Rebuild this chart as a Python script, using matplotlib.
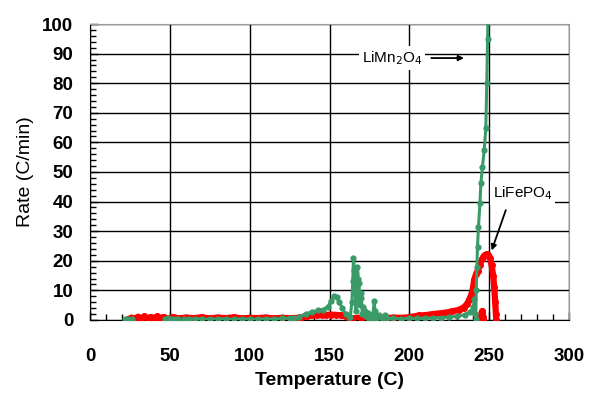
import numpy as np
import matplotlib
matplotlib.use("Agg")
import matplotlib.pyplot as plt

plt.rcParams['font.family'] = ['Liberation Sans', 'DejaVu Sans']

# LiFePO4 (red) - temperature (C), rate (C/min)
fe_temp = [24, 26, 28, 30, 32, 34, 36, 38, 40, 42, 44, 46, 48, 52, 56, 60, 65, 70, 75, 80,
           85, 90, 95, 100, 105, 110, 115, 120, 125, 130, 133, 136, 139, 142, 145, 148,
           151, 154, 157, 160, 162, 165, 170, 175, 180, 185, 190, 195, 200, 206, 210,
           215, 222, 227, 231, 234, 236, 237.5, 238.8, 239.6, 240.6, 241.8, 242.7, 244,
           245.5, 246.5, 247.5, 248.5, 249.5, 250.5, 251.5, 252.5, 253.2, 253.8, 254.2,
           254.5, np.nan, 244.8, 245.2, 245.8, 246.2, 246.4]
fe_rate = [0.3, 0.8, 0.2, 1.1, 0.4, 1.2, 0.5, 1.0, 0.3, 1.2, 0.6, 1.0, 0.4, 0.9, 0.5, 0.8,
           0.6, 0.9, 0.5, 0.8, 0.6, 0.9, 0.5, 0.7, 0.6, 0.8, 0.5, 0.7, 0.6, 0.7, 1.0, 1.3,
           1.5, 1.6, 1.7, 1.7, 1.8, 1.7, 1.6, 1.2, 0.6, 0.5, 0.8, 0.5, 0.9, 0.6, 0.8, 0.7,
           0.9, 1.5, 1.6, 2.0, 2.4, 2.9, 3.4, 4.2, 5.3, 6.8, 8.5, 10, 13.5, 15.5, 16.6,
           18.5, 20.5, 21.5, 22, 22.2, 22, 21, 18.5, 15, 11, 6, 2, 0, np.nan, 0.5, 2.5,
           3, 1, 0]

# LiMn2O4 (green)
mn_temp = [22, 23.5, 25, 26.5, np.nan, 47, 49, 51, 53, 55, np.nan, 59, 62, 66, 70, 75, 80,
           85, 90, 95, 100, 105, 110, 115, 120, 125, 128, 131, 135, 139, 143, 146, 149,
           151, 153, 154.5, 156, 158, 160, 162, 163, 164, 164.5, 165, 165.5, 166, 166.5,
           167, 167.5, 168, 168.5, 169, 169.5, 170, 170.5, 171, 172, 172.5, 173.5, 174,
           175, 176, 177, 178, 178.5, 179, 181, 183, 184.5, 186, 190, 195, 200, 205, 210,
           215, 220, 225, 230, 235, 238, 239, 240, 240.8, 241.3, 241.6, 241.9, 242.3,
           242.7, 243.3, 244.2, 244.8, 245.8, 246.9, 247.9, 248.5, 249, 249.3]
mn_rate = [0.2, 0.3, 0.1, 0.3, np.nan, 0.3, 0.5, 0.2, 0.4, 0.3, np.nan, 0.3, 0.2, 0.4, 0.3,
           0.2, 0.4, 0.3, 0.2, 0.4, 0.3, 0.2, 0.4, 0.3, 0.5, 0.6, 0.7, 1.0, 2.0, 2.8, 3.2,
           3.5, 4.5, 6.5, 8.2, 7.8, 6.0, 4.0, 2.0, 1.0, 1.0, 6, 13, 21, 17, 10, 3, 8, 18,
           14, 12.5, 5, 9, 7.5, 2, 4.5, 1.5, 3, 1, 2.2, 0.8, 1.5, 0.8, 6.4, 3, 0.8, 1.5,
           0.7, 1.7, 0.6, 0.5, 0.4, 0.6, 0.5, 0.6, 0.7, 0.8, 1.0, 1.2, 1.8, 2.8, 3.0, 4.5,
           7.0, 2.0, 0.3, 10, 18, 24.8, 31.5, 39.4, 46.2, 51.8, 57.4, 64.8, 80, 95, 102]

fig = plt.figure(figsize=(5.89, 3.94), dpi=100)
ax = fig.add_axes([0.153, 0.188, 0.813, 0.751])

ax.plot(fe_temp, fe_rate, color='#ff0000', lw=4.5, marker='o', ms=4,
        mfc='#ff0000', mec='#ff0000', zorder=3, solid_capstyle='round',
        solid_joinstyle='round')
ax.plot(mn_temp, mn_rate, color='#3a9a68', lw=2.2, marker='o', ms=3.5,
        mfc='#3a9a68', mec='#3a9a68', zorder=4, solid_joinstyle='round')

ax.set_xlim(0, 300)
ax.set_ylim(0, 100)
ax.set_xticks(np.arange(0, 301, 50))
ax.set_yticks(np.arange(0, 101, 10))
ax.set_xticks(np.arange(0, 301, 10), minor=True)
ax.set_yticks(np.arange(0, 101, 2), minor=True)
ax.grid(True, which='major', color='black', lw=1)
ax.set_axisbelow(True)
ax.tick_params(which='both', direction='in', top=False, right=False)
ax.tick_params(which='major', length=6, width=1)
ax.tick_params(which='minor', length=4, width=1)
ax.tick_params(axis='x', which='major', pad=20, labelsize=13.5)
ax.tick_params(axis='y', which='major', pad=12, labelsize=13.5)
for lab in ax.get_xticklabels() + ax.get_yticklabels():
    lab.set_fontweight('bold')

for s in ['top', 'right']:
    ax.spines[s].set_color('#999999')
for s in ['left', 'bottom']:
    ax.spines[s].set_color('black')

ax.set_xlabel('Temperature (C)', fontsize=14, fontweight='bold', labelpad=5)
ax.set_ylabel('Rate (C/min)', fontsize=14, labelpad=6)

ax.text(189, 88.5, 'LiMn$_2$O$_4$', fontsize=11, ha='center', va='center',
        bbox=dict(facecolor='white', edgecolor='none', pad=2), zorder=5)
ax.annotate('', xy=(236, 88.5), xytext=(212, 88.5),
            arrowprops=dict(arrowstyle='-|>', color='black', lw=1.3,
                            mutation_scale=8), zorder=5)

ax.text(271, 42.9, 'LiFePO$_4$', fontsize=11, ha='center', va='center',
        bbox=dict(facecolor='white', edgecolor='none', pad=2), zorder=5)
ax.annotate('', xy=(251, 22.6), xytext=(261, 38),
            arrowprops=dict(arrowstyle='-|>', color='black', lw=1.3,
                            mutation_scale=8), zorder=5)

fig.savefig('out.png', dpi=100)
